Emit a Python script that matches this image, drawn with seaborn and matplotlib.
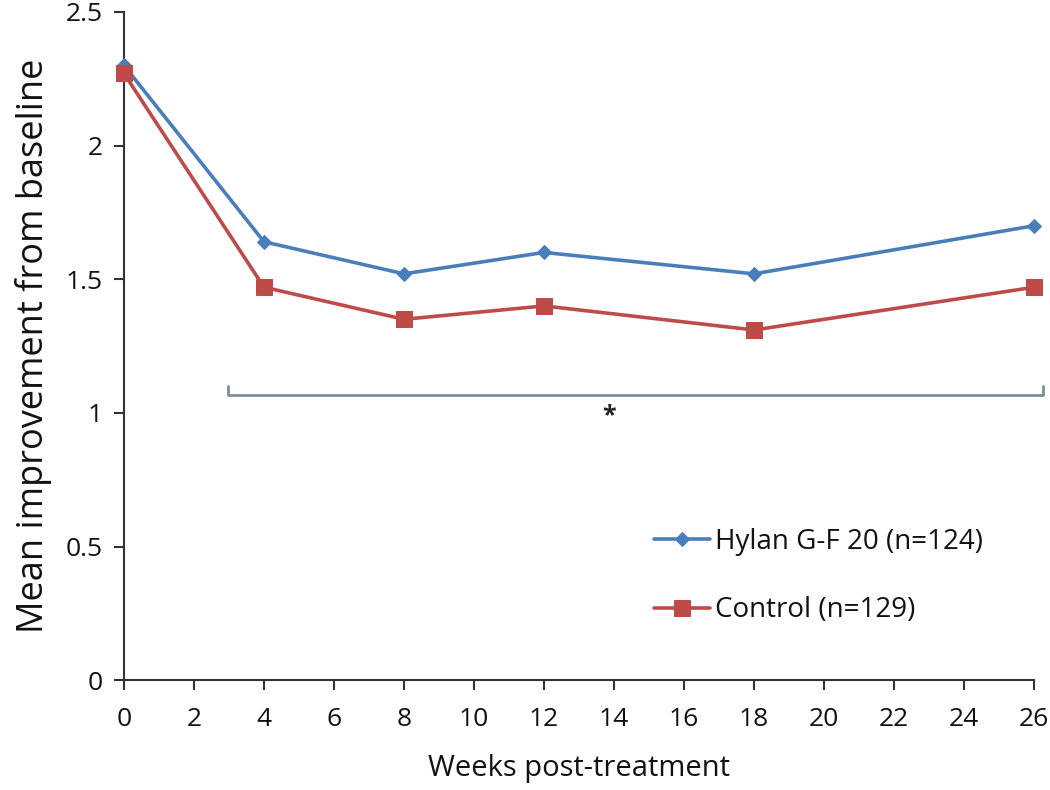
import pandas as pd
import matplotlib
matplotlib.use('Agg')
import matplotlib.pyplot as plt
import seaborn as sns

# Values
weeks = [0, 4, 8, 12, 18, 26]
hylan = [2.30, 1.64, 1.52, 1.60, 1.52, 1.70]
control = [2.27, 1.47, 1.35, 1.40, 1.31, 1.47]
series_names = ['Hylan G-F 20 (n=124)', 'Control (n=129)']
x_ticks = list(range(0, 27, 2))
y_ticks = [0, 0.5, 1, 1.5, 2, 2.5]
y_tick_labels = ['0', '0.5', '1', '1.5', '2', '2.5']

df = pd.DataFrame({
    'Week': weeks * 2,
    'Improvement': hylan + control,
    'Group': [series_names[0]] * len(weeks) + [series_names[1]] * len(weeks),
})

sns.set_style('white')
plt.rcParams['font.family'] = ['Open Sans', 'DejaVu Sans']
plt.rcParams['text.color'] = '#111111'

fig = plt.figure(figsize=(10.5, 7.9), dpi=100)
ax = fig.add_axes([0.118, 0.139, 0.867, 0.846])

palette = {series_names[0]: '#4A7EBB', series_names[1]: '#BE4B48'}
markers = {series_names[0]: 'D', series_names[1]: 's'}
sizes = {series_names[0]: 7, series_names[1]: 11}

for name in series_names:
    sub = df[df['Group'] == name]
    sns.lineplot(data=sub, x='Week', y='Improvement', ax=ax, color=palette[name],
                 marker=markers[name], markersize=sizes[name], markeredgecolor=palette[name],
                 linewidth=2.6, label=name, clip_on=False, zorder=3)

ax.set_xlim(0, 26)
ax.set_ylim(0, 2.5)
ax.set_xticks(x_ticks)
ax.set_xticklabels([str(t) for t in x_ticks])
ax.set_yticks(y_ticks)
ax.set_yticklabels(y_tick_labels)
ax.tick_params(axis='both', direction='out', length=7, width=1.5, color='#333333',
               labelsize=19, labelcolor='#111111', bottom=True, left=True)
ax.tick_params(axis='x', pad=12)
ax.tick_params(axis='y', pad=8)
for side in ['top', 'right']:
    ax.spines[side].set_visible(False)
for side in ['left', 'bottom']:
    ax.spines[side].set_color('#333333')
    ax.spines[side].set_linewidth(1.5)

ax.set_xlabel('Weeks post-treatment', fontsize=21, labelpad=16, color='#111111')
ax.set_ylabel('Mean improvement from baseline', fontsize=26, labelpad=10, color='#111111')

# Significance bracket
bracket_color = '#7F8C99'
ax.plot([2.97, 2.97, 26.25, 26.25], [1.1, 1.065, 1.065, 1.1], color=bracket_color,
        linewidth=2, clip_on=False, solid_capstyle='round')
ax.text(13.85, 0.99, '*', ha='center', va='center', fontsize=18, fontweight='bold',
        color='#222222')

ax.legend(loc='upper left', bbox_to_anchor=(0.555, 0.265), frameon=False, fontsize=20,
          labelspacing=1.45, handlelength=2.0, handletextpad=0.2)

plt.savefig('out.png', dpi=100)
